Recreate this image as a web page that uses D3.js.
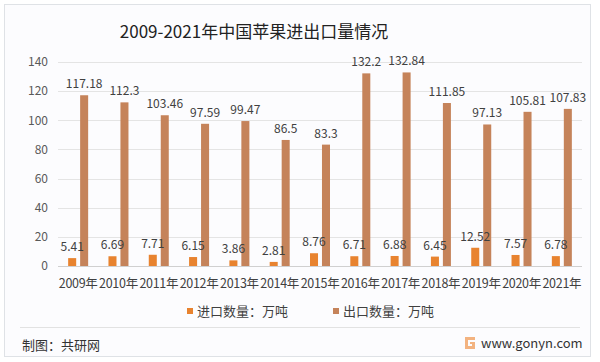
<!DOCTYPE html>
<html>
<head>
<meta charset="utf-8">
<script src="https://cdn.jsdelivr.net/npm/d3@7"></script>
<style>
  body { margin: 0; background: #fff; }
  svg { display: block; font-family: "Noto Sans CJK SC", "Noto Sans", sans-serif; }
</style>
</head>
<body>
<svg id="chart" width="600" height="362"></svg>
<script>
// data
var years = ["2009年","2010年","2011年","2012年","2013年","2014年","2015年","2016年","2017年","2018年","2019年","2020年","2021年"];
var importVals = [5.41, 6.69, 7.71, 6.15, 3.86, 2.81, 8.76, 6.71, 6.88, 6.45, 12.52, 7.57, 6.78];
var exportVals = [117.18, 112.3, 103.46, 97.59, 99.47, 86.5, 83.3, 132.2, 132.84, 111.85, 97.13, 105.81, 107.83];
var yTicks = [0, 20, 40, 60, 80, 100, 120, 140];
var seriesNames = ["进口数量：万吨", "出口数量：万吨"];
var colors = ["#e8832f", "#c5835a"];

var svg = d3.select("#chart");

// frame
svg.append("rect")
    .attr("x", 4.5).attr("y", 4.5)
    .attr("width", 586).attr("height", 352)
    .attr("fill", "#fcfcfe")
    .attr("stroke", "#dfe2e6");

svg.append("text")
    .attr("x", 254).attr("y", 38)
    .attr("text-anchor", "middle")
    .attr("font-size", "17px")
    .attr("fill", "#222")
    .text("2009-2021年中国苹果进出口量情况");

var margin = {left: 58, right: 582, top: 62, bottom: 266};

var x = d3.scaleBand()
    .domain(years)
    .range([margin.left, margin.right]);

var sub = d3.scaleBand()
    .domain([0, 1])
    .range([0, 20])
    .paddingInner(0.33);

var y = d3.scaleLinear()
    .domain([0, 140])
    .range([margin.bottom, margin.top]);

// gridlines
svg.append("g")
    .selectAll("line")
    .data(yTicks)
    .enter().append("line")
      .attr("x1", margin.left).attr("x2", margin.right)
      .attr("y1", function(d) { return Math.round(y(d)) + 0.5; })
      .attr("y2", function(d) { return Math.round(y(d)) + 0.5; })
      .attr("stroke", function(d) { return d == 0 ? "#d0d0d0" : "#e4e4e4"; });

// y axis labels
var yAxis = svg.append("g")
    .attr("transform", "translate(" + (margin.left - 10) + ",0)")
    .call(d3.axisLeft(y).tickValues(yTicks).tickSize(0).tickPadding(0));
yAxis.select(".domain").remove();
yAxis.selectAll("text")
    .attr("font-size", "12px")
    .attr("font-family", "\"Noto Sans CJK SC\", sans-serif")
    .attr("fill", "#595959");

// x axis labels
var xAxis = svg.append("g")
    .attr("transform", "translate(0," + (margin.bottom + 13) + ")")
    .call(d3.axisBottom(x).tickSize(0).tickPadding(0));
xAxis.select(".domain").remove();
xAxis.selectAll("text")
    .attr("font-size", "12.5px")
    .attr("font-family", "\"Noto Sans CJK SC\", sans-serif")
    .attr("fill", "#404040")
    .attr("letter-spacing", "-0.3px");

var rows = years.map(function(yr, i) {
  return {year: yr, vals: [importVals[i], exportVals[i]]};
});

var groups = svg.selectAll(".grp")
    .data(rows)
    .enter().append("g")
      .attr("class", "grp")
      .attr("transform", function(d) {
        return "translate(" + (x(d.year) + x.bandwidth() / 2 - 10) + ",0)"; });

groups.selectAll("rect")
    .data(function(d) { return d.vals; })
    .enter().append("rect")
      .attr("x", function(d, i) { return sub(i); })
      .attr("width", sub.bandwidth())
      .attr("y", function(d) { return y(d); })
      .attr("height", function(d) { return y(0) - y(d); })
      .attr("fill", function(d, i) { return colors[i]; });

groups.selectAll("text")
    .data(function(d) { return d.vals; })
    .enter().append("text")
      .attr("x", function(d, i) { return sub(i) + sub.bandwidth() / 2; })
      .attr("y", function(d) { return y(d) - 7; })
      .attr("text-anchor", "middle")
      .attr("font-size", "12px")
      .attr("fill", "#404040")
      .text(function(d) { return d; });

// legend
var legendX = [187, 333];
var legend = svg.selectAll(".leg")
    .data(seriesNames)
    .enter().append("g")
      .attr("class", "leg")
      .attr("transform", function(d, i) { return "translate(" + legendX[i] + ",311)"; });
legend.append("rect")
    .attr("x", 0).attr("y", -3)
    .attr("width", 6).attr("height", 6)
    .attr("fill", function(d, i) { return colors[i]; });
legend.append("text")
    .attr("x", 10).attr("y", 5)
    .attr("font-size", "13px")
    .attr("fill", "#404040")
    .text(function(d) { return d; });

// footer
svg.append("line")
    .attr("x1", 20).attr("x2", 580)
    .attr("y1", 327.5).attr("y2", 327.5)
    .attr("stroke", "#e2e2e2");

svg.append("text")
    .attr("x", 22).attr("y", 350)
    .attr("font-size", "13px")
    .attr("fill", "#333")
    .text("制图：共研网");

var logo = svg.append("g").attr("transform", "translate(465,337)");
logo.append("path")
    .attr("d", "M0,0 H10 V3 H3 V9 H7 V7 H5 V5 H10 V12 H0 Z")
    .attr("fill", "#f0a060")
    .attr("opacity", 0.8);

svg.append("text")
    .attr("x", 481).attr("y", 348)
    .attr("font-size", "13px")
    .attr("fill", "#333")
    .text("www.gonyn.com");
</script>
</body>
</html>
